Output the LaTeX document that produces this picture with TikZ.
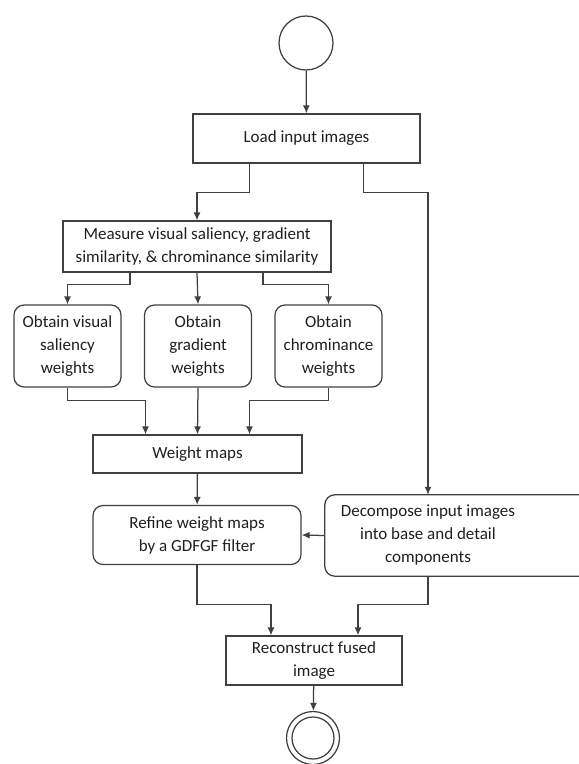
\documentclass[tikz,border=0pt]{standalone}
\usepackage{fontspec}
\setmainfont{Carlito}
\usetikzlibrary{calc,positioning,arrows.meta,shapes}

\begin{document}
\begin{tikzpicture}[
  x=1pt, y=-1pt,
  every node/.style={font=\fontsize{17}{23}\selectfont, text=black!88},
  line/.style={draw=black!75, line width=1.25pt},
  arrow/.style={line, -{Latex[length=8pt,width=7pt]}},
  stepbox/.style={rectangle, line, inner sep=0pt, align=center},
  roundbox/.style={stepbox, rounded corners=10pt},
  terminal/.style={circle, line, inner sep=0pt},
  ]

  \clip (0,0) rectangle (579,764);

  \node (start) [terminal, minimum size=54pt] at (306,43) {};

  \node (load_images) [stepbox, minimum width=227pt, minimum height=49pt] at (306.5,138.5) {Load input images};

  \node (measure) [stepbox, minimum width=268pt, minimum height=51pt] at (197,246.5)
    {Measure visual saliency, gradient\\similarity, \& chrominance similarity};

  \foreach \i/\txt in {0/{Obtain visual\\saliency\\weights},1/{Obtain\\gradient\\weights},2/{Obtain\\chrominance\\weights}}
  {
    \node (obtain_\i) [roundbox, minimum width=107pt, minimum height=82pt] at ($(67.5,346)+(130.5*\i,0)$) {\txt};
  }

  \node (weight_maps) [stepbox, minimum width=209pt, minimum height=38pt] at (197.5,454) {Weight maps};

  \node (refine) [roundbox, minimum width=208pt, minimum height=59pt] at (197,535)
    {Refine weight maps\\by a GDFGF filter};

  % box runs off the right edge
  \node (decompose) [align=center, inner sep=0pt, minimum width=206pt, minimum height=81pt] at (428,535.5)
    {Decompose input images\\into base and detail\\components};
  \draw[line, rounded corners=10pt] (decompose.south west) rectangle ($(decompose.north east)+(60,0)$);

  \node (reconstruct) [stepbox, minimum width=176pt, minimum height=49pt] at (314,660.5)
    {Reconstruct fused\\image};

  \node (stop) [terminal, minimum size=53pt] at (313,738) {};
  \node (stop_inner) [terminal, minimum size=42pt] at (stop) {};

  % connectors
  \draw[arrow] (start) -- (load_images);
  \draw[arrow] ([xshift=-57pt]load_images.south) -- ++(0,29) -| (measure.north);
  \draw[arrow] ([xshift=57pt]load_images.south) -- ++(0,29) -| (decompose.north);

  \draw[arrow] ([xshift=-67pt]measure.south) -- ++(0,12) -| (obtain_0.north);
  \draw[arrow] (measure.south) -- (obtain_1.north);
  \draw[arrow] ([xshift=66pt]measure.south) -- ++(0,12) -| (obtain_2.north);

  \draw[arrow] (obtain_0.south) -- ++(0,13) -| ([xshift=-52pt]weight_maps.north);
  \draw[arrow] (obtain_1.south) -- (weight_maps.north);
  \draw[arrow] (obtain_2.south) -- ++(0,13) -| ([xshift=52pt]weight_maps.north);

  \draw[arrow] (weight_maps) -- (refine);
  \draw[arrow] (decompose.west) -- (refine.east);

  \draw[arrow] (refine.south) -- ++(0,39.5) -| ([xshift=-43pt]reconstruct.north);
  \draw[arrow] (decompose.south) -- ++(0,28) -| ([xshift=44pt]reconstruct.north);

  \draw[arrow] (reconstruct) -- (stop);

\end{tikzpicture}
\end{document}
